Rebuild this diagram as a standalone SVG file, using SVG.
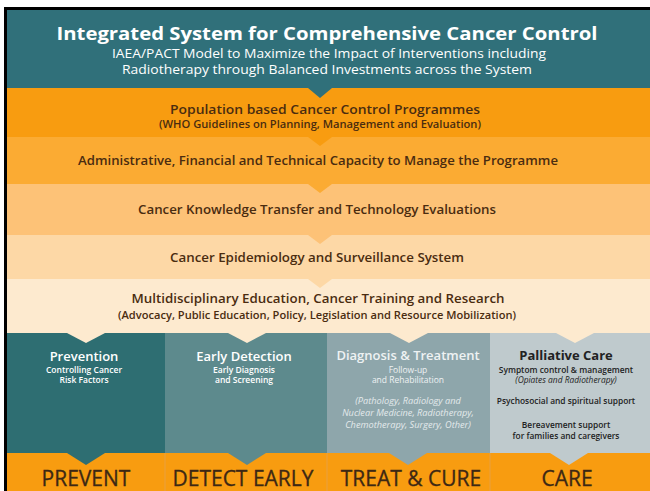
<svg xmlns="http://www.w3.org/2000/svg" width="650" height="491" viewBox="0 0 650 491">
<style>
text{font-family:"Open Sans","Noto Sans","Liberation Sans",sans-serif;text-anchor:middle}
.band{font-size:12.5px;font-weight:600;fill:#4a2c10}
.bsub{font-size:10px;font-weight:600;fill:#4a2c10}
.ct{font-size:13px;font-weight:600;fill:#ffffff}
.cs{font-size:8.5px;font-weight:600;fill:#ffffff}
.ci{font-size:9.2px;font-style:italic;fill:#e4eaec}
.pt{font-size:13px;font-weight:700;fill:#222222}
.ps{font-size:8.4px;font-weight:600;fill:#222222}
.big{font-size:21px;font-weight:400;fill:#3d2814;stroke:#3d2814;stroke-width:0.3}
</style>
<rect x="0" y="0" width="650" height="491" fill="#ffffff"/>
<rect x="4" y="7" width="646" height="484" fill="#000000"/>
<g id="header">
<rect x="7" y="10" width="643" height="78" fill="#30707a"/>
<text x="327" y="40" style="font-size:18.5px;font-weight:700;fill:#ffffff" textLength="541" lengthAdjust="spacingAndGlyphs">Integrated System for Comprehensive Cancer Control</text>
<text x="329" y="57.5" style="font-size:12.5px;fill:#ffffff" textLength="434" lengthAdjust="spacingAndGlyphs">IAEA/PACT Model to Maximize the Impact of Interventions including</text>
<text x="327" y="74" style="font-size:12.5px;fill:#ffffff" textLength="410" lengthAdjust="spacingAndGlyphs">Radiotherapy through Balanced Investments across the System</text>
</g>
<g id="band1">
<rect x="7" y="88" width="643" height="49" fill="#f89c10"/>
<text class="band" x="325" y="114" textLength="310" lengthAdjust="spacingAndGlyphs">Population based Cancer Control Programmes</text>
<text class="bsub" x="320" y="128" textLength="322" lengthAdjust="spacingAndGlyphs">(WHO Guidelines on Planning, Management and Evaluation)</text>
</g>
<g id="band2">
<rect x="7" y="137" width="643" height="47" fill="#fbab33"/>
<text class="band" x="318" y="165" textLength="480" lengthAdjust="spacingAndGlyphs">Administrative, Financial and Technical Capacity to Manage the Programme</text>
</g>
<g id="band3">
<rect x="7" y="184" width="643" height="51" fill="#fdc277"/>
<text class="band" x="317" y="214" textLength="358" lengthAdjust="spacingAndGlyphs">Cancer Knowledge Transfer and Technology Evaluations</text>
</g>
<g id="band4">
<rect x="7" y="235" width="643" height="44" fill="#fdd8a6"/>
<text class="band" x="317" y="262" textLength="294" lengthAdjust="spacingAndGlyphs">Cancer Epidemiology and Surveillance System</text>
</g>
<g id="band5">
<rect x="7" y="279" width="643" height="54" fill="#fdeacf"/>
<text class="band" x="318" y="303" textLength="373" lengthAdjust="spacingAndGlyphs">Multidisciplinary Education, Cancer Training and Research</text>
<text class="bsub" style="font-size:10.5px" x="317" y="319" textLength="398" lengthAdjust="spacingAndGlyphs">(Advocacy, Public Education, Policy, Legislation and Resource Mobilization)</text>
</g>
<g id="prevention">
<rect x="7" y="333" width="158" height="120" fill="#2e6e72"/>
<text class="ct" x="84" y="361">Prevention</text>
<text class="cs" x="84" y="373">Controlling Cancer</text>
<text class="cs" x="84" y="383">Risk Factors</text>
</g>
<g id="early-detection">
<rect x="165" y="333" width="162" height="120" fill="#5d8a8d"/>
<text class="ct" x="244" y="361">Early Detection</text>
<text class="cs" x="244" y="373">Early Diagnosis</text>
<text class="cs" x="244" y="383">and Screening</text>
</g>
<g id="diagnosis-treatment">
<rect x="327" y="333" width="163" height="120" fill="#8ea6ab"/>
<text class="ct" x="408" y="360" style="fill:#eef2f3">Diagnosis &amp; Treatment</text>
<text class="cs" x="408" y="373" style="fill:#eef2f3;font-weight:400">Follow-up</text>
<text class="cs" x="408" y="383" style="fill:#eef2f3;font-weight:400">and Rehabilitation</text>
<text class="ci" x="408" y="404">(Pathology, Radiology and</text>
<text class="ci" x="408" y="416">Nuclear Medicine, Radiotherapy,</text>
<text class="ci" x="408" y="428">Chemotherapy, Surgery, Other)</text>
</g>
<g id="palliative-care">
<rect x="490" y="333" width="160" height="120" fill="#bfcacd"/>
<text class="pt" x="566" y="360">Palliative Care</text>
<text class="ps" x="566" y="373">Symptom control &amp; management</text>
<text class="ps" x="566" y="383" style="font-style:italic;font-weight:400">(Opiates and Radiotherapy)</text>
<text class="ps" x="566" y="404">Psychosocial and spiritual support</text>
<text class="ps" x="566" y="428">Bereavement support</text>
<text class="ps" x="566" y="439">for families and caregivers</text>
</g>
<g id="bottom">
<rect x="7" y="453" width="643" height="38" fill="#f89c10"/>
<line x1="165" y1="453" x2="165" y2="491" stroke="#e8a040" stroke-width="1"/>
<line x1="327" y1="453" x2="327" y2="491" stroke="#e8a040" stroke-width="1"/>
<line x1="490" y1="453" x2="490" y2="491" stroke="#e8a040" stroke-width="1"/>
<text class="big" x="86" y="486">PREVENT</text>
<text class="big" x="243" y="486">DETECT EARLY</text>
<text class="big" x="411" y="486">TREAT &amp; CURE</text>
<text class="big" x="567" y="486">CARE</text>
</g>
<g id="connectors">
<polygon points="308,88 332,88 320,98" fill="#30707a"/>
<polygon points="308,137 332,137 320,146" fill="#f89c10"/>
<polygon points="308,184 332,184 320,193" fill="#fbab33"/>
<polygon points="308,235 332,235 320,244" fill="#fdc277"/>
<polygon points="308,279 332,279 320,288" fill="#fdd8a6"/>
<polygon points="67,333 105,333 86,343" fill="#fdeacf"/>
<polygon points="228,333 266,333 247,343" fill="#fdeacf"/>
<polygon points="390,333 428,333 409,343" fill="#fdeacf"/>
<polygon points="556,333 594,333 575,343" fill="#fdeacf"/>
<polygon points="67,453 105,453 86,465" fill="#2e6e72"/>
<polygon points="228,453 266,453 247,465" fill="#5d8a8d"/>
<polygon points="389,453 427,453 408,465" fill="#8ea6ab"/>
<polygon points="550,453 588,453 569,465" fill="#bfcacd"/>
</g>
</svg>
